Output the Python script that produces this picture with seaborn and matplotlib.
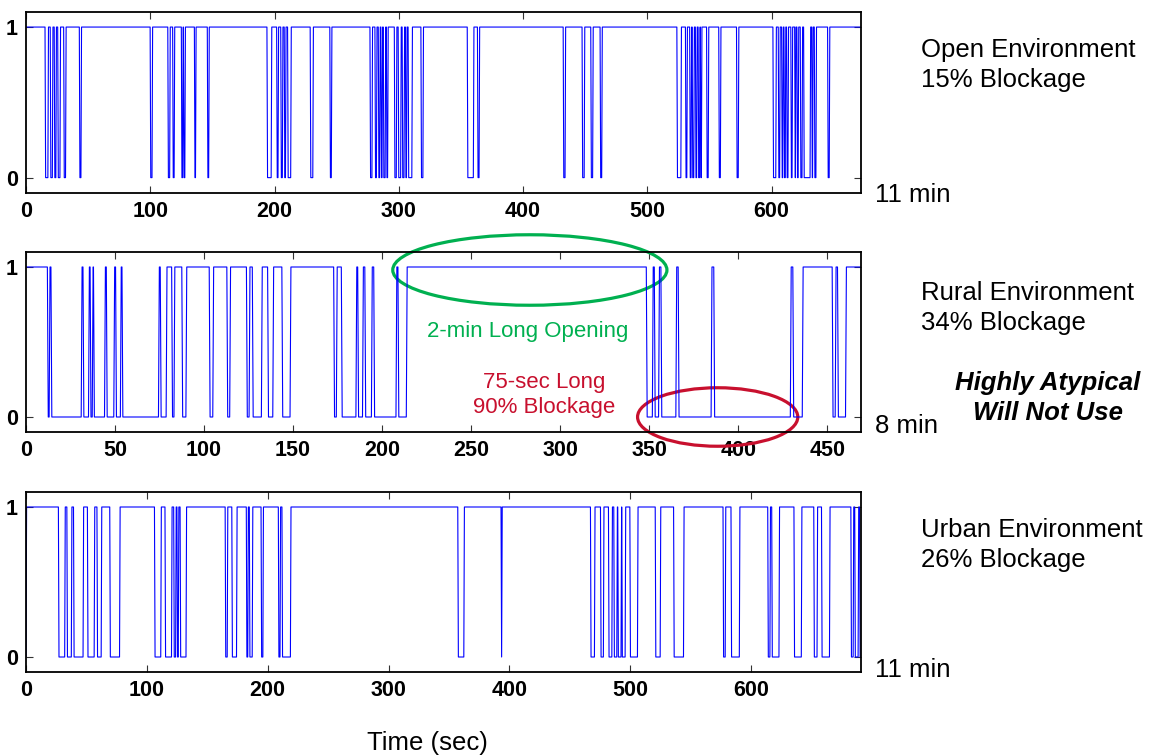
import numpy as np
import pandas as pd
import matplotlib
matplotlib.use("Agg")
import matplotlib.pyplot as plt
import seaborn as sns
from matplotlib.patches import Ellipse

# ---------------- data (seconds) ----------------
panel_names = ["Open Environment", "Rural Environment", "Urban Environment"]
panel_blockage = ["15% Blockage", "34% Blockage", "26% Blockage"]
panel_lengths = ["11 min", "8 min", "11 min"]

open_duration = 672
open_blocked = [
    (15.8, 17.6), (20.0, 21.2), (23.2, 24.0), (26.0, 27.3), (30.8, 31.8), (43.4, 44.2),
    (100.4, 101.4), (114.6, 115.6), (118.5, 119.2), (125.5, 126.0), (127.2, 127.8),
    (136.0, 136.4), (146.4, 147.0),
    (194.4, 197.3), (202.2, 202.8), (205.5, 206.3), (208.3, 208.8), (211.0, 213.0),
    (229.2, 230.8), (245.0, 245.7), (277.3, 278.4), (281.3, 282.0), (284.0, 284.6),
    (286.1, 286.5), (288.0, 289.0), (290.5, 291.0),
    (296.9, 298.0), (300.0, 301.5), (303.2, 304.2), (305.8, 306.2), (308.0, 310.5),
    (318.3, 319.4), (355.6, 360.0), (363.8, 364.6), (432.8, 433.8), (448.0, 449.2),
    (455.0, 456.0), (462.5, 463.3),
    (524.3, 527.0), (531.2, 531.8), (534.6, 535.2), (536.6, 537.4), (539.2, 539.7),
    (541.4, 542.0), (543.2, 543.5), (548.2, 549.0), (558.0, 558.8), (572.3, 573.2),
    (601.6, 603.4), (605.9, 606.5), (608.6, 609.0), (610.5, 611.0), (612.6, 613.2),
    (616.0, 616.5), (619.1, 619.2), (620.9, 621.4), (623.6, 624.5), (626.3, 631.0),
    (632.8, 633.0), (634.9, 635.7), (645.6, 646.4),
]

rural_duration = 469
rural_blocked = [
    (12.5, 13.0), (14.5, 31.0), (32.5, 35.1), (36.5, 37.2), (38.4, 44.1), (45.6, 49.3),
    (50.8, 53.0), (54.4, 74.4), (75.9, 78.7), (82.3, 83.1), (88.0, 89.8), (103.4, 104.9),
    (113.3, 114.4), (124.3, 125.3), (127.6, 132.2), (136.2, 138.6), (144.2, 148.3),
    (173.3, 174.3), (177.6, 185.3), (186.8, 189.0), (190.8, 194.0), (195.8, 207.8),
    (209.4, 213.6),
    (348.9, 351.8), (353.4, 355.3), (357.1, 365.0), (366.8, 384.8), (386.8, 429.3),
    (431.2, 436.0), (453.3, 454.5), (456.3, 460.3),
]

urban_duration = 691
urban_blocked = [
    (0.0, 0.0), (27.3, 32.0), (34.3, 37.5), (39.8, 47.2), (51.3, 56.4), (59.2, 62.2),
    (69.8, 77.4), (106.8, 111.5), (115.5, 120.4), (122.7, 123.8), (125.4, 126.0),
    (128.0, 132.4), (165.3, 166.5), (170.8, 174.2), (182.8, 183.5), (185.3, 187.2),
    (195.0, 196.0), (209.3, 210.2), (212.3, 218.8),
    (357.8, 362.3), (393.6, 393.6),
    (467.6, 470.4), (475.9, 477.8), (482.5, 484.8), (486.9, 488.9), (490.2, 492.4),
    (493.5, 495.8), (500.2, 506.0), (521.2, 524.8), (536.4, 544.1), (577.3, 578.6),
    (583.9, 590.3), (614.3, 615.6), (617.6, 623.1), (636.0, 641.6), (652.4, 654.6),
    (658.8, 664.9), (683.1, 684.5), (686.3, 688.6), (690.3, 691.0),
]

open_ticks = [0, 100, 200, 300, 400, 500, 600]
rural_ticks = [0, 50, 100, 150, 200, 250, 300, 350, 400, 450]
urban_ticks = [0, 100, 200, 300, 400, 500, 600]


def step_signal(blocks, duration, ramp=0.5):
    """Turn blockage intervals into a sampled 0/1 visibility trace."""
    t, v = [], []
    for a, b in blocks:
        if a <= 0:
            t += [0.0, b]
            v += [0.0, 0.0]
        else:
            if not t:
                t += [0.0]
                v += [1.0]
            t += [a - ramp, a, b]
            v += [1.0, 0.0, 0.0]
        end = min(b + ramp, duration)
        if end > b:
            t.append(end)
            v.append(1.0 if b + ramp <= duration else 1.0 - (end - b) / ramp)
    if t[-1] < duration:
        t.append(duration)
        v.append(1.0 if v[-1] >= 1.0 else v[-1])
    return pd.DataFrame({"time": t, "signal": v})


# ---------------- style ----------------
sns.set_theme(style="white", rc={"text.color": "black", "axes.labelcolor": "black",
                                 "xtick.color": "black", "ytick.color": "black"})
plt.rcParams["font.family"] = ["Liberation Sans", "DejaVu Sans"]

W, H = 1151, 756
fig = plt.figure(figsize=(W / 100, H / 100), dpi=100)
fig.patch.set_facecolor("white")

left = 26 / W
width = (861 - 26) / W
axes_px = [(12, 192.7), (252, 432), (492, 672)]

series = [
    (open_blocked, open_duration, open_ticks),
    (rural_blocked, rural_duration, rural_ticks),
    (urban_blocked, urban_duration, urban_ticks),
]

axes = []
for (top, bot), (blocks, dur, ticks) in zip(axes_px, series):
    ax = fig.add_axes([left, 1 - bot / H, width, (bot - top) / H])
    df = step_signal(blocks, dur)
    sns.lineplot(data=df, x="time", y="signal", ax=ax, color="#0000FF",
                 linewidth=0.8, estimator=None, sort=False)
    ax.set_xlim(0, dur)
    ax.set_ylim(-0.1, 1.1)
    ax.set_xticks(ticks)
    ax.set_yticks([0, 1])
    ax.set_xlabel("")
    ax.set_ylabel("")
    ax.set_facecolor("white")
    for s in ax.spines.values():
        s.set_visible(True)
        s.set_color("black")
        s.set_linewidth(1.3)
    ax.tick_params(axis="both", which="both", direction="in", length=5, width=0.8,
                   top=True, right=True, bottom=True, left=True,
                   color="#333333", labelcolor="black", labelsize=15.5, pad=6)
    for lab in ax.get_xticklabels() + ax.get_yticklabels():
        lab.set_fontweight("bold")
    ax.grid(False)
    axes.append(ax)

# annotations on the rural panel
ax2 = axes[1]
green = "#00B050"
red = "#C8102E"
ax2.add_patch(Ellipse((283, 0.98), 154, 0.47, fill=False, edgecolor=green,
                      linewidth=2.3, clip_on=False))
ax2.add_patch(Ellipse((388.5, 0.0), 90, 0.39, fill=False, edgecolor=red,
                      linewidth=2.3, clip_on=False))


def ftext(x, y, s, **kw):
    kw.setdefault("color", "black")
    fig.text(x / W, 1 - y / H, s, **kw)


ftext(528, 337, "2-min Long Opening", color=green, fontsize=16, ha="center", va="baseline")
ftext(544, 388.5, "75-sec Long", color=red, fontsize=16, ha="center", va="baseline")
ftext(544, 413.5, "90% Blockage", color=red, fontsize=16, ha="center", va="baseline")

# right-hand labels
name_base = [56.7, 300, 537]
len_base = [202, 433, 677]
for i in range(3):
    ftext(921, name_base[i], panel_names[i], fontsize=18.5, ha="left", va="baseline")
    ftext(921, name_base[i] + 30.5, panel_blockage[i], fontsize=18.5, ha="left", va="baseline")
    ftext(875, len_base[i], panel_lengths[i], fontsize=18.5, ha="left", va="baseline")

ftext(1048, 390, "Highly Atypical", fontsize=18.5, fontweight="bold", fontstyle="italic",
      ha="center", va="baseline")
ftext(1048, 420, "Will Not Use", fontsize=18.5, fontweight="bold", fontstyle="italic",
      ha="center", va="baseline")

ftext(427, 750, "Time (sec)", fontsize=18.5, ha="center", va="baseline")

fig.savefig("out.png", dpi=100, facecolor="white")
